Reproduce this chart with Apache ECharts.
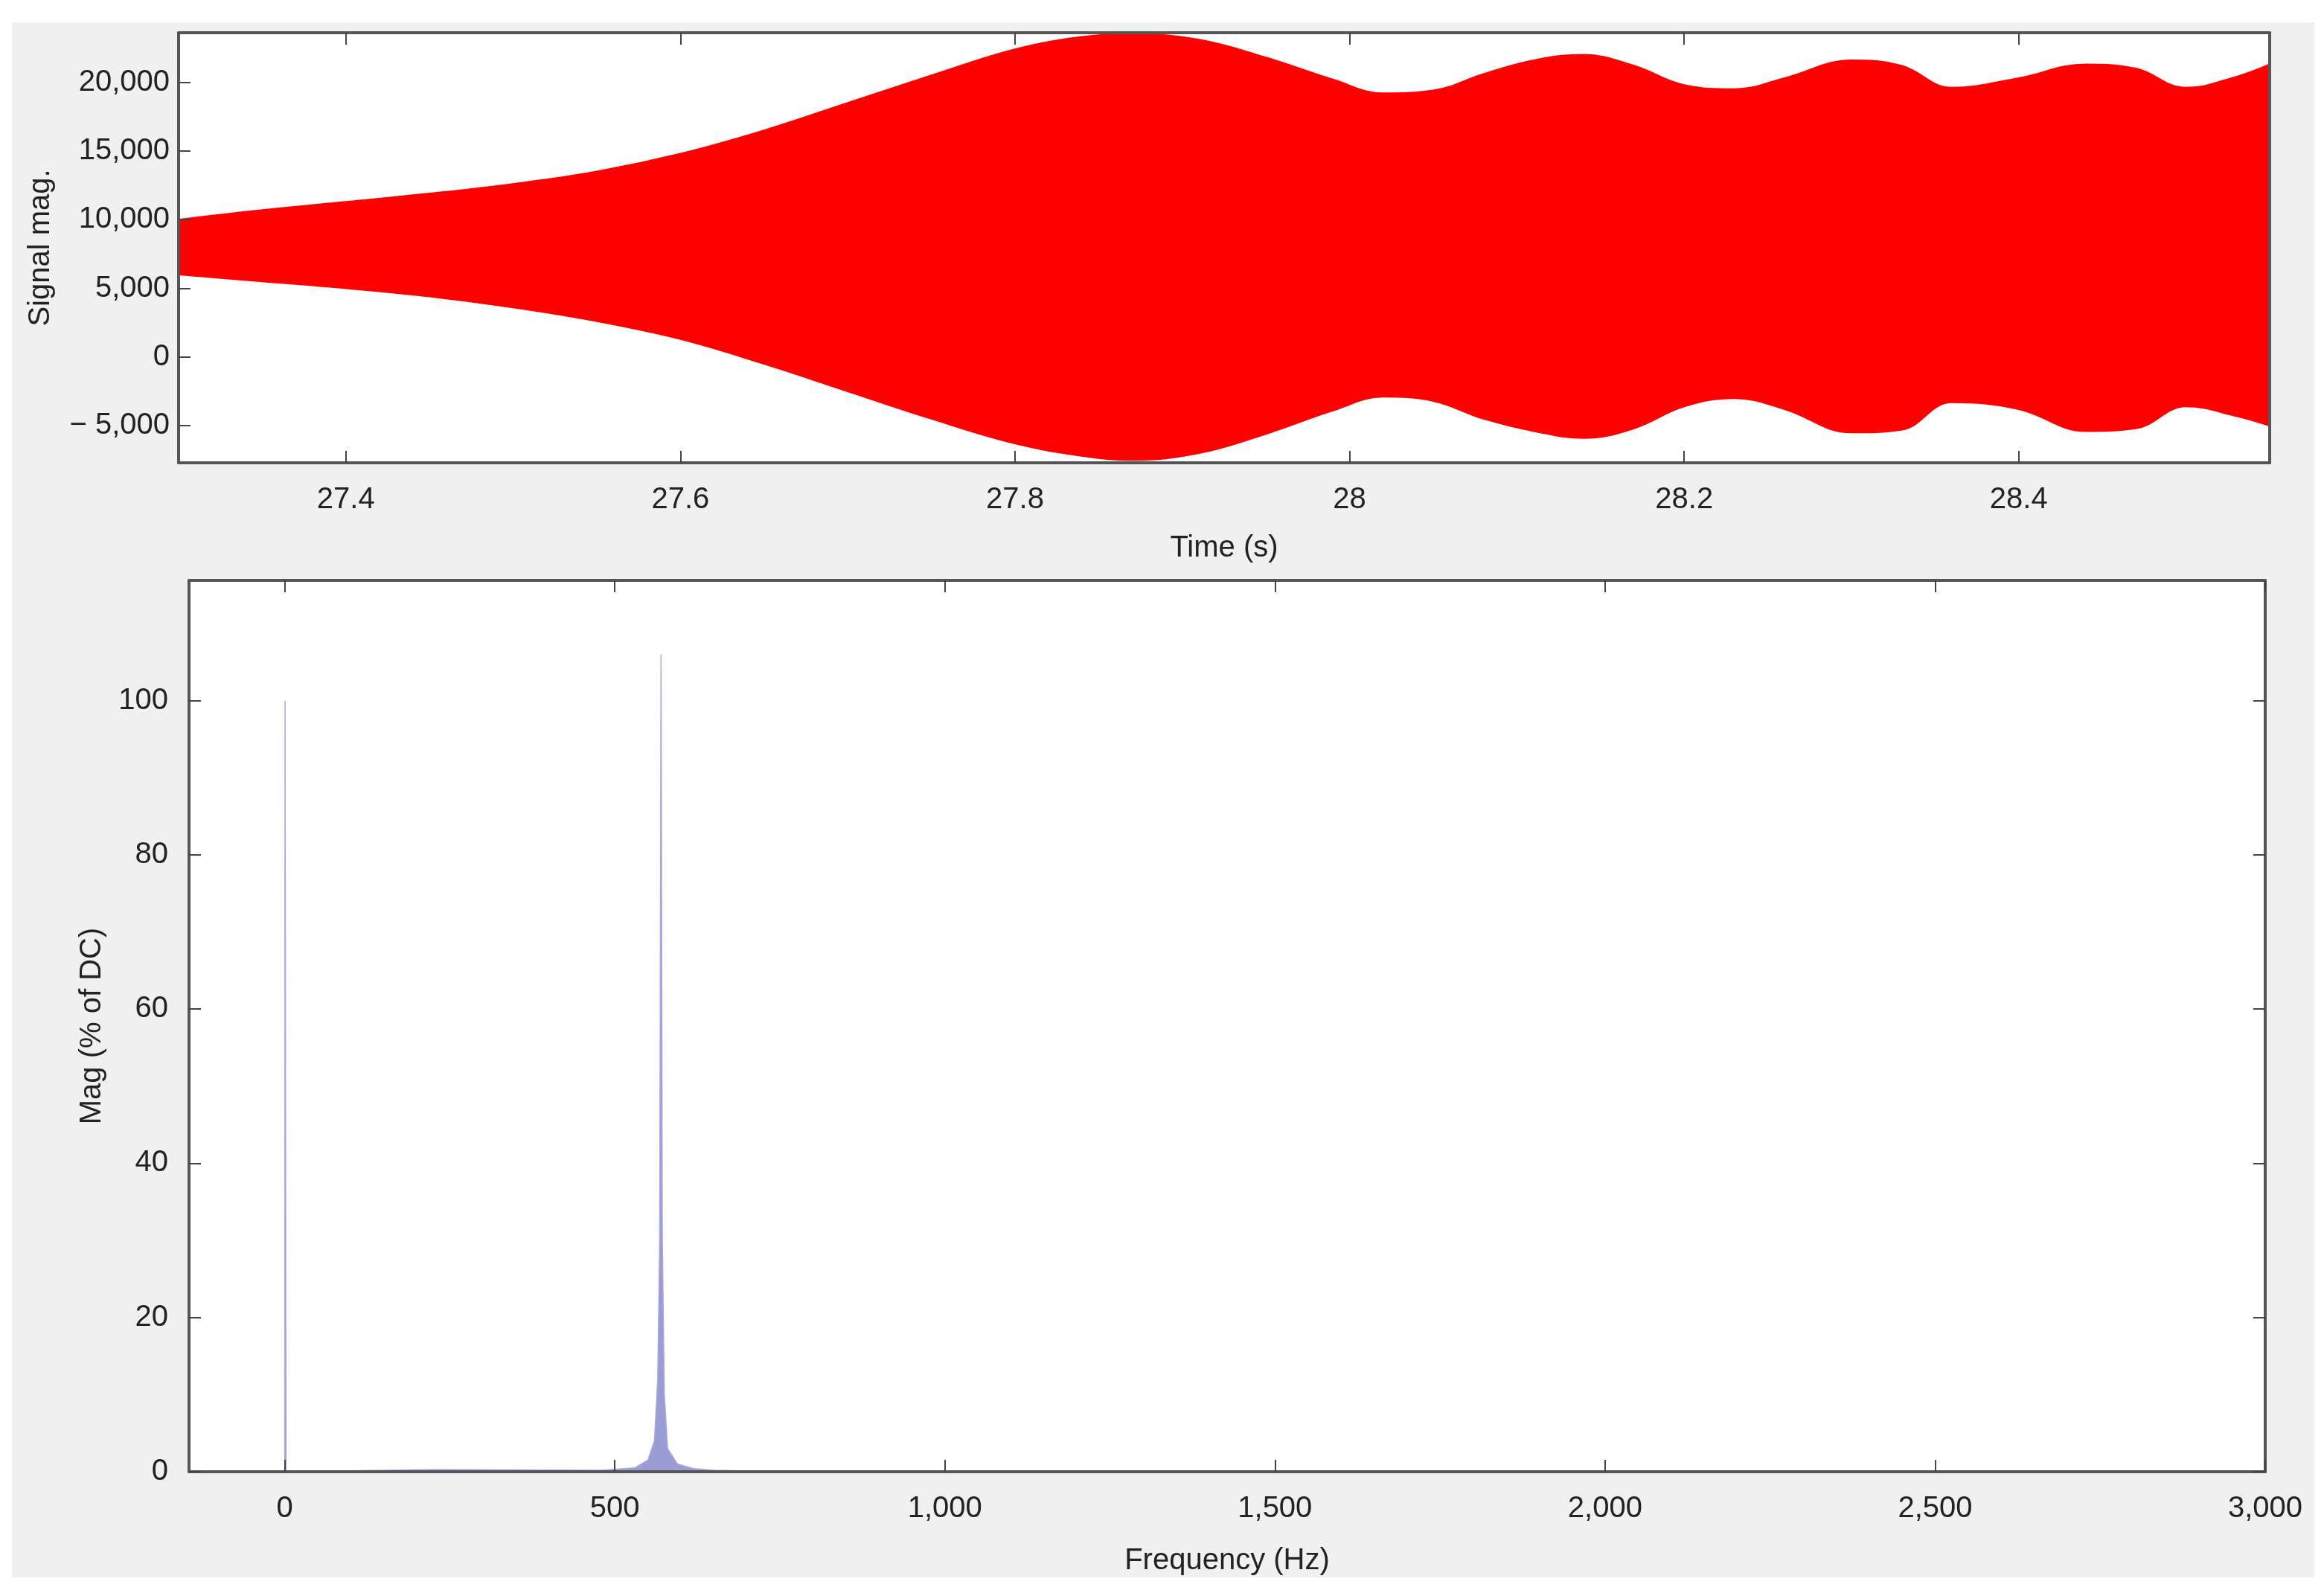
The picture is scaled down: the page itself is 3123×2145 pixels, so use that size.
<!DOCTYPE html>
<html><head><meta charset="utf-8">
<script src="https://cdn.jsdelivr.net/npm/echarts@6/dist/echarts.min.js"></script>
<style>html,body{margin:0;padding:0;background:#fff}#c{width:3123px;height:2145px}</style>
</head><body><div id="c"></div>
<script>
// Envelope of the time signal (s, signal magnitude)
const timeS   = [27.30,27.35,27.40,27.45,27.50,27.55,27.60,27.65,27.70,27.75,27.80,27.84,27.87,27.91,27.95,27.99,28.02,28.05,28.08,28.11,28.14,28.17,28.20,28.23,28.26,28.30,28.33,28.36,28.40,28.44,28.47,28.50,28.53,28.55];
const upperEnv = [10000,10700,11300,11900,12600,13500,14800,16500,18500,20500,22400,23300,23500,23100,21800,20200,19200,19400,20600,21600,22000,21200,19800,19500,20300,21600,21200,19600,20300,21300,21000,19600,20400,21300];
const lowerEnv = [6000,5500,5000,4400,3600,2600,1300,-500,-2500,-4500,-6300,-7200,-7500,-7000,-5600,-3900,-2900,-3200,-4500,-5400,-5900,-5200,-3600,-3000,-3800,-5500,-5300,-3300,-3800,-5400,-5200,-3600,-4300,-5000];
const timeTicks = [27.4,27.6,27.8,28,28.2,28.4];
const signalTicks = [-5000,0,5000,10000,15000,20000];
// Spectrum
const freqHz = [0,0.5,2,230,480,530,550,560,565,568,570,572,575,580,595,620,650,700,1000,2000,3000];
const magPct = [0,100,0,0.3,0.2,0.5,1.5,4,12,30,106,30,10,3,1,0.4,0.2,0.1,0.05,0.02,0];
const freqTicks = [0,500,1000,1500,2000,2500,3000];
const magTicks = [0,20,40,60,80,100];

const up = upperEnv.map((u,i)=>[timeS[i], u]);
const low = lowerEnv.map((l,i)=>[timeS[i], l]);
const spec = freqHz.map((f,i)=>[f, magPct[i]]);

const F = 'Liberation Sans, Arial, sans-serif';
const lbl = {color:'#222', fontSize:40, fontFamily:F};
const frame = {show:true, onZero:false, lineStyle:{color:'#555', width:4}};
const tick = cv => ({inside:true, length:16, customValues:cv, lineStyle:{color:'#444',width:2}});
const fmt = v => (v<0?'\u2212 ':'') + Math.abs(v).toLocaleString('en-US');

const chart = echarts.init(document.getElementById('c'), null, {renderer:'canvas'});
chart.setOption({
  animation:false,
  backgroundColor:'#fff',
  graphic:[{type:'rect', z:-10, silent:true, shape:{x:16,y:30,width:3094,height:2090}, style:{fill:'#f0f0f0'}}],
  grid:[
    {left:240, right:73, top:44, height:578, show:true, backgroundColor:'#fff', borderWidth:0},
    {left:254, right:79, top:780, height:1198, show:true, backgroundColor:'#fff', borderWidth:0}
  ],
  xAxis:[
    {type:'value', gridIndex:0, min:27.3, max:28.55, position:'bottom', z:10,
     name:'Time (s)', nameLocation:'middle', nameGap:95, nameTextStyle:lbl,
     axisLine:frame, axisTick:tick(timeTicks),
     axisLabel:Object.assign({margin:30, customValues:timeTicks, formatter:v=>String(+v.toFixed(1))},lbl),
     splitLine:{show:false}},
    {type:'value', gridIndex:0, min:27.3, max:28.55, position:'top', z:10,
     axisLine:frame, axisTick:tick(timeTicks),
     axisLabel:{show:false, customValues:timeTicks}, splitLine:{show:false}},
    {type:'value', gridIndex:1, min:-145, max:3000, position:'bottom', z:10,
     name:'Frequency (Hz)', nameLocation:'middle', nameGap:100, nameTextStyle:lbl,
     axisLine:frame, axisTick:tick(freqTicks),
     axisLabel:Object.assign({margin:30, customValues:freqTicks, formatter:fmt},lbl),
     splitLine:{show:false}},
    {type:'value', gridIndex:1, min:-145, max:3000, position:'top', z:10,
     axisLine:frame, axisTick:tick(freqTicks),
     axisLabel:{show:false, customValues:freqTicks}, splitLine:{show:false}}
  ],
  yAxis:[
    {type:'value', gridIndex:0, min:-7700, max:23600, position:'left', z:10,
     name:'Signal mag.', nameLocation:'middle', nameGap:165, nameTextStyle:lbl,
     axisLine:frame, axisTick:tick(signalTicks),
     axisLabel:Object.assign({margin:12, customValues:signalTicks, formatter:fmt},lbl),
     splitLine:{show:false}},
    {type:'value', gridIndex:0, min:-7700, max:23600, position:'right', z:10,
     axisLine:frame, axisTick:{show:false}, axisLabel:{show:false}, splitLine:{show:false}},
    {type:'value', gridIndex:1, min:0, max:115.6, position:'left', z:10,
     name:'Mag (% of DC)', nameLocation:'middle', nameGap:110, nameTextStyle:lbl,
     axisLine:frame, axisTick:tick(magTicks),
     axisLabel:Object.assign({margin:28, customValues:magTicks},lbl),
     splitLine:{show:false}},
    {type:'value', gridIndex:1, min:0, max:115.6, position:'right', z:10,
     axisLine:frame, axisTick:tick(magTicks),
     axisLabel:{show:false, customValues:magTicks}, splitLine:{show:false}}
  ],
  series:[
    {type:'line', xAxisIndex:0, yAxisIndex:0, data:up, showSymbol:false, smooth:0.4, z:2,
     lineStyle:{color:'#ff0000', width:2}, areaStyle:{color:'#ff0000', opacity:1, origin:'start'}},
    {type:'line', xAxisIndex:0, yAxisIndex:0, data:low, showSymbol:false, smooth:0.4, z:3,
     lineStyle:{color:'#ff0000', width:2}, areaStyle:{color:'#ffffff', opacity:1, origin:'start'}},
    {type:'line', xAxisIndex:2, yAxisIndex:2, data:spec, showSymbol:false,
     lineStyle:{color:'#a8a8e0', width:1.5}, areaStyle:{color:'#5a5ab8', opacity:0.6}}
  ]
});
</script></body></html>
